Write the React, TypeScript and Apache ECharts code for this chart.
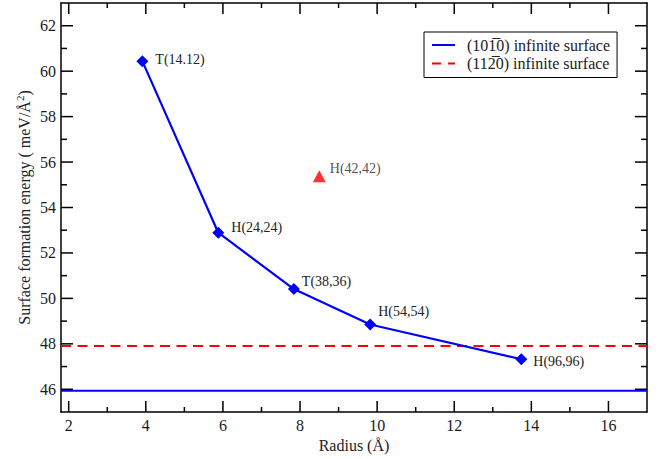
import React, { useEffect, useRef } from "react";
import * as echarts from "echarts";

const xMin = 1.8;
const xMax = 17;
const yMin = 45;
const yMax = 63;
const xMajor = [2, 4, 6, 8, 10, 12, 14, 16];
const xMinor = [3, 5, 7, 9, 11, 13, 15];
const yMajor = [46, 48, 50, 52, 54, 56, 58, 60, 62];
const yMinor = [47, 49, 51, 53, 55, 57, 59, 61];

const wireRadius = [3.91, 5.88, 7.84, 9.82, 13.74];
const wireEnergy = [60.44, 52.89, 50.41, 48.85, 47.32];
const wireNames = ["T(14.12)", "H(24,24)", "T(38,36)", "H(54,54)", "H(96,96)"];

const extraRadius = [8.5];
const extraEnergy = [55.37];
const extraNames = ["H(42,42)"];

const surface1010 = 45.94;
const surface1120 = 47.9;

const legendNames = ["(101\u03050) infinite surface", "(112\u03050) infinite surface"];

const wireLabelOffsets = [
  [2, -2],
  [2, -5],
  [-3, -8],
  [-3, -13],
  [1, 2],
];
const extraLabelOffsets = [[-1, -8]];

const FONT = "'Liberation Serif', 'Times New Roman', serif";
const TXT = "#222";
const TICK = "#000";

export default function App() {
  const ref = useRef<HTMLDivElement>(null);
  useEffect(() => {
    if (!ref.current) return;
    const chart = echarts.init(ref.current, undefined, { renderer: "svg" });

    const frameAxisLine = { show: true, onZero: false, lineStyle: { color: "#000", width: 1.5 } };
    const option: any = {
      animation: false,
      backgroundColor: "#fff",
      grid: {
        left: 61,
        right: 16,
        top: 3,
        bottom: 47,
        containLabel: false,
        outerBoundsMode: "none",
      },
      legend: {
        orient: "vertical",
        left: 424,
        top: 32,
        padding: [5, 7, 6, 8],
        itemWidth: 23,
        itemHeight: 2,
        itemGap: 2.5,
        backgroundColor: "#fff",
        borderColor: "#000",
        borderWidth: 1,
        borderRadius: 0,
        textStyle: { fontFamily: FONT, fontSize: 16, color: TXT, padding: [0, 0, 0, 7], lineHeight: 16 },
        data: [
          { name: legendNames[0], icon: "path://M0,0H23V2H0Z" },
          { name: legendNames[1], icon: "path://M0,0H9V2H0Z M16,0H23V2H16Z" },
        ],
      },
      xAxis: [
        {
          type: "value",
          position: "bottom",
          min: xMin,
          max: xMax,
          name: "Radius (\u00C5)",
          nameLocation: "middle",
          nameGap: 25,
          nameTextStyle: { fontFamily: FONT, fontSize: 16, color: TXT },
          axisLine: frameAxisLine,
          axisTick: { show: false },
          axisLabel: { show: false },
          splitLine: { show: false },
        },
        {
          type: "value",
          position: "top",
          min: xMin,
          max: xMax,
          axisLine: frameAxisLine,
          axisTick: { show: false },
          axisLabel: { show: false },
          splitLine: { show: false },
        },
      ],
      yAxis: [
        {
          type: "value",
          position: "left",
          min: yMin,
          max: yMax,
          name: "Surface formation energy ( meV/\u00C5{sup|2})",
          nameLocation: "middle",
          nameGap: 27,
          nameRotate: 90,
          nameTextStyle: {
            fontFamily: FONT,
            fontSize: 16,
            color: TXT,
            rich: {
              sup: { fontFamily: FONT, fontSize: 11, color: TXT, verticalAlign: "top", padding: [0, 0, 9, 0] },
            },
          },
          axisLine: frameAxisLine,
          axisTick: { show: false },
          axisLabel: { show: false },
          splitLine: { show: false },
        },
        {
          type: "value",
          position: "right",
          min: yMin,
          max: yMax,
          axisLine: frameAxisLine,
          axisTick: { show: false },
          axisLabel: { show: false },
          splitLine: { show: false },
        },
      ],
      series: [
        {
          name: legendNames[0],
          type: "line",
          xAxisIndex: 0,
          yAxisIndex: 0,
          symbol: "none",
          data: [
            [xMin, surface1010],
            [xMax, surface1010],
          ],
          lineStyle: { color: "#0000ff", width: 2 },
          itemStyle: { color: "#0000ff" },
          z: 2,
        },
        {
          name: legendNames[1],
          type: "line",
          xAxisIndex: 0,
          yAxisIndex: 0,
          symbol: "none",
          data: [
            [xMin, surface1120],
            [xMax, surface1120],
          ],
          lineStyle: { color: "#ff0000", width: 2, type: [10, 6.5] },
          itemStyle: { color: "#ff0000" },
          z: 2,
        },
        {
          name: "wires",
          type: "line",
          xAxisIndex: 0,
          yAxisIndex: 0,
          symbol: "diamond",
          symbolSize: [12, 12],
          lineStyle: { color: "#0000ff", width: 2.2 },
          itemStyle: { color: "#0000ff" },
          data: wireRadius.map((x, i) => ({
            value: [x, wireEnergy[i]],
            label: {
              show: true,
              position: "right",
              distance: 5,
              offset: wireLabelOffsets[i],
              formatter: wireNames[i],
              fontFamily: FONT,
              fontSize: 14,
              color: TXT,
            },
          })),
          z: 3,
        },
        {
          name: "extra",
          type: "scatter",
          xAxisIndex: 0,
          yAxisIndex: 0,
          symbol: "triangle",
          symbolSize: [13, 12],
          itemStyle: { color: "#ff0000" },
          data: extraRadius.map((x, i) => ({
            value: [x, extraEnergy[i]],
            label: {
              show: true,
              position: "right",
              distance: 5,
              offset: extraLabelOffsets[i],
              formatter: extraNames[i],
              fontFamily: FONT,
              fontSize: 14,
              color: TXT,
            },
          })),
          z: 3,
        },
      ],
    };
    chart.setOption(option);

    // inward ticks on all four sides and tick labels, placed through the chart's own scales
    const px = (x: number, y: number) =>
      chart.convertToPixel({ gridIndex: 0 } as any, [x, y]) as number[];
    const tickStyle = { stroke: TICK, lineWidth: 1.5 };
    const labelStyle = (text: string, align: string, vAlign: string) => ({
      text,
      fontFamily: FONT,
      fontSize: 16,
      fill: "#1a1a1a",
      align,
      verticalAlign: vAlign,
    });
    const els: any[] = [];
    const addX = (v: number, len: number, label: boolean) => {
      const b = px(v, yMin);
      const t = px(v, yMax);
      els.push({ type: "line", z: 50, silent: true, shape: { x1: b[0], y1: b[1], x2: b[0], y2: b[1] - len }, style: tickStyle });
      els.push({ type: "line", z: 50, silent: true, shape: { x1: t[0], y1: t[1], x2: t[0], y2: t[1] + len }, style: tickStyle });
      if (label) {
        els.push({ type: "text", z: 50, silent: true, x: b[0], y: b[1] + 5, style: labelStyle(String(v), "center", "top") });
      }
    };
    const addY = (v: number, len: number, label: boolean) => {
      const l = px(xMin, v);
      const r = px(xMax, v);
      els.push({ type: "line", z: 50, silent: true, shape: { x1: l[0], y1: l[1], x2: l[0] + len, y2: l[1] }, style: tickStyle });
      els.push({ type: "line", z: 50, silent: true, shape: { x1: r[0], y1: r[1], x2: r[0] - len, y2: r[1] }, style: tickStyle });
      if (label) {
        els.push({ type: "text", z: 50, silent: true, x: l[0] - 5, y: l[1], style: labelStyle(String(v), "right", "middle") });
      }
    };
    xMajor.forEach((v) => addX(v, 11, true));
    xMinor.forEach((v) => addX(v, 5, false));
    yMajor.forEach((v) => addY(v, 12, true));
    yMinor.forEach((v) => addY(v, 6, false));
    chart.setOption({ graphic: { elements: els } });

    return () => chart.dispose();
  }, []);
  return (
    <div
      ref={ref}
      style={{ position: "fixed", left: 0, top: 0, width: 663, height: 459, background: "#fff" }}
    />
  );
}
